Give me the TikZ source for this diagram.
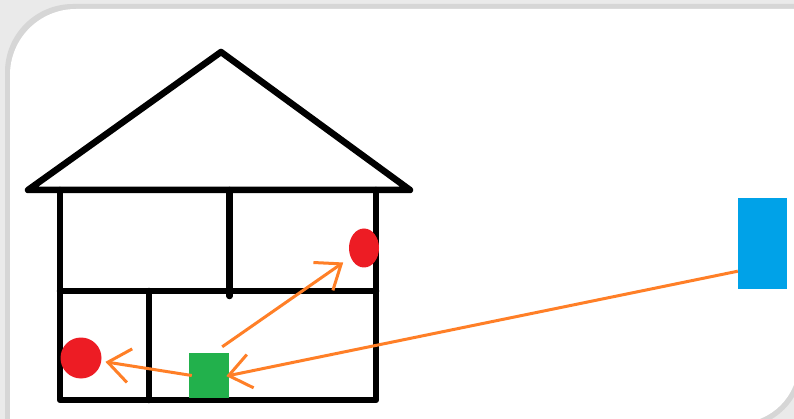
\documentclass[tikz,border=0pt]{standalone}
\usepackage{tikz}
\usetikzlibrary{arrows.meta,shapes.geometric}
\definecolor{paintred}{RGB}{237,28,36}
\definecolor{paintgreen}{RGB}{34,177,76}
\definecolor{paintblue}{RGB}{0,162,232}
\definecolor{paintorange}{RGB}{255,127,39}
\definecolor{shadow1}{RGB}{234,234,234}
\definecolor{shadow2}{RGB}{214,214,214}

\begin{document}
\begin{tikzpicture}[x=1pt,y=-1pt,
  wall/.style={line width=6.5pt,line cap=round,line join=round},
  signal/.style={paintorange,line width=3pt,-{Straight Barb[length=22pt,width=34pt]}}]
\useasboundingbox (0,0) rectangle (794,419);
% frame with soft shadow, round corners only top left and bottom right
\fill[shadow1] (0,0) rectangle (794,419);
\begin{scope}
  \clip[rounded corners=64pt] (-200,-200) rectangle (803,428);
  \fill[shadow2,rounded corners=68pt] (5,4) rectangle (1000,700);
\end{scope}
\begin{scope}
  \clip[rounded corners=60pt] (-200,-200) rectangle (798,423);
  \fill[white,rounded corners=66pt] (10,9) rectangle (1000,700);
\end{scope}
% house
\draw[wall] (28,190) -- (221,52) -- (410,190) -- cycle;
\draw[wall] (60,190) -- (60,400) -- (376,400) -- (376,190);
\draw[wall] (60,291) -- (376,291);
\draw[wall] (229.5,190) -- (229.5,296);
\draw[wall] (149,291) -- (149,400);
% devices
\node[ellipse,fill=paintred,inner sep=0pt,minimum width=30pt,minimum height=39pt] (redup) at (364,248) {};
\node[circle,fill=paintred,inner sep=0pt,minimum size=41pt] (reddown) at (81,358) {};
\node[rectangle,fill=paintgreen,inner sep=0pt,minimum width=40pt,minimum height=45pt] (green) at (209,375.5) {};
\node[rectangle,fill=paintblue,inner sep=0pt,minimum width=49pt,minimum height=91pt] (blue) at (762.5,243.5) {};
% signals
\draw[signal,shorten >=4pt] ([xshift=3pt]green.west) -- (reddown);
\draw[signal,shorten >=9pt] ([shift={(-7,-6)}]green.north east) -- (redup);
\draw[signal,shorten >=-3pt] ([shift={(0,-18)}]blue.south west) -- (green.east);
\end{tikzpicture}
\end{document}
